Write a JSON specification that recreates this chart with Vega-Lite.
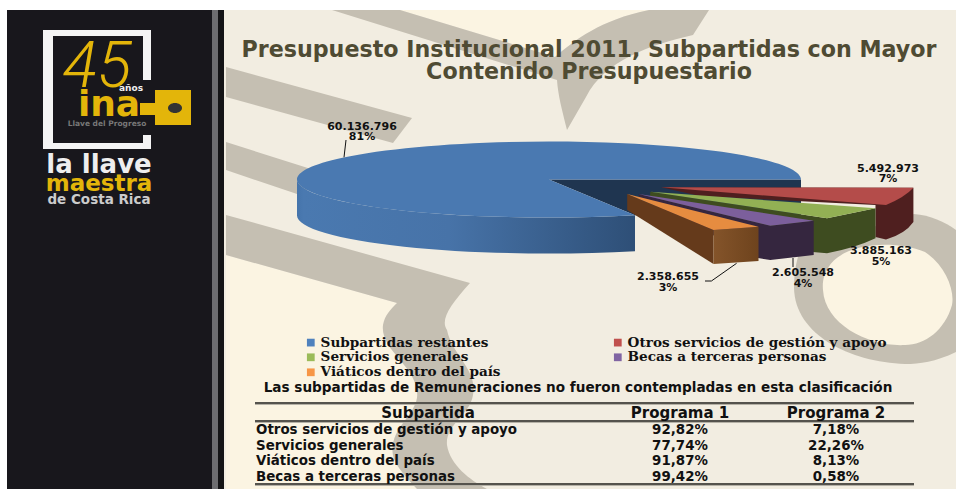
{
"$schema":"https://vega.github.io/schema/vega-lite/v6.json",
"width":956,"height":489,"padding":0,
"autosize":{"type":"fit","contains":"padding"},
"background":"#ffffff",
"config":{"view":{"stroke":null}},
"title":{"text":["Presupuesto Institucional 2011, Subpartidas con Mayor","Contenido Presupuestario"],"anchor":"middle","dx":111,"offset":-83,"font":"DejaVu Sans","fontWeight":"bold","fontSize":22.2,"lineHeight":22,"color":"#4f4b33"},
"datasets":{
"montos":[
{"subpartida":"Subpartidas restantes","monto":60136796,"etiqueta":"60.136.796","porcentaje":"81%"},
{"subpartida":"Otros servicios de gestión y apoyo","monto":5492973,"etiqueta":"5.492.973","porcentaje":"7%"},
{"subpartida":"Servicios generales","monto":3885163,"etiqueta":"3.885.163","porcentaje":"5%"},
{"subpartida":"Becas a terceras personas","monto":2605548,"etiqueta":"2.605.548","porcentaje":"4%"},
{"subpartida":"Viáticos dentro del país","monto":2358655,"etiqueta":"2.358.655","porcentaje":"3%"}
],
"fondo":[{"pieza":"panel"},{"pieza":"claro1"},{"pieza":"claro2"},{"pieza":"banda1"},{"pieza":"banda2"},{"pieza":"banda3"},{"pieza":"banda4"},{"pieza":"anillo"},{"pieza":"centro"},{"pieza":"barra"},{"pieza":"franja"},{"pieza":"filete"},{"pieza":"marco"},{"pieza":"llave"},{"pieza":"ojo"},{"pieza":"sombra"},{"pieza":"reglas"},{"pieza":"cuna"}],
"logo":[{"orden":1,"texto":"años"},{"orden":2,"texto":"ina"},{"orden":3,"texto":"Llave del Progreso"},{"orden":4,"texto":"la llave"},{"orden":5,"texto":"maestra"},{"orden":6,"texto":"de Costa Rica"}],
"tabla":[
{"fila":1,"subpartida":"Otros servicios de gestión y apoyo","programa":"Programa 1","valor":"92,82%"},
{"fila":1,"subpartida":"Otros servicios de gestión y apoyo","programa":"Programa 2","valor":"7,18%"},
{"fila":2,"subpartida":"Servicios generales","programa":"Programa 1","valor":"77,74%"},
{"fila":2,"subpartida":"Servicios generales","programa":"Programa 2","valor":"22,26%"},
{"fila":3,"subpartida":"Viáticos dentro del país","programa":"Programa 1","valor":"91,87%"},
{"fila":3,"subpartida":"Viáticos dentro del país","programa":"Programa 2","valor":"8,13%"},
{"fila":4,"subpartida":"Becas a terceras personas","programa":"Programa 1","valor":"99,42%"},
{"fila":4,"subpartida":"Becas a terceras personas","programa":"Programa 2","valor":"0,58%"}
]
},
"resolve":{"scale":{"x":"independent","y":"independent","color":"independent","shape":"independent","size":"independent"}},
"layer":[
{"data":{"name":"montos"},
"mark":{"type":"square","size":60,"opacity":1},
"encoding":{
"x":{"datum":100,"type":"quantitative","axis":null,"scale":{"domain":[0,956],"range":[0,956],"nice":false}},
"y":{"datum":300,"type":"quantitative","axis":null,"scale":{"domain":[0,489],"range":[0,489],"nice":false}},
"color":{"field":"subpartida","type":"nominal","scale":{"domain":["Subpartidas restantes","Otros servicios de gestión y apoyo","Servicios generales","Becas a terceras personas","Viáticos dentro del país"],"range":["#4f81bd","#c0504d","#9bbb59","#8064a2","#f79646"]},
"legend":{"title":null,"orient":"none","legendX":304,"legendY":335.5,"columns":2,"direction":"horizontal","symbolType":"square","symbolSize":60,"symbolStrokeWidth":0,"labelFont":"DejaVu Serif","labelFontWeight":"bold","labelFontSize":13.6,"labelColor":"#111111","labelLimit":400,"labelOffset":3,"rowPadding":0,"columnPadding":110,"padding":0}}
}},
{"data":{"name":"fondo"},
"mark":{"type":"point","filled":true,"opacity":1,"size":4,"strokeWidth":0},
"encoding":{
"x":{"datum":0,"type":"quantitative","axis":null,"scale":{"domain":[0,956],"range":[0,956],"nice":false}},
"y":{"datum":0,"type":"quantitative","axis":null,"scale":{"domain":[0,489],"range":[0,489],"nice":false}},
"shape":{"field":"pieza","type":"nominal","legend":null,"scale":{"domain":["panel","claro1","claro2","banda1","banda2","banda3","banda4","anillo","centro","barra","franja","filete","marco","llave","ojo","sombra","reglas","cuna"],"range":[
"M224 10 L956 10 L956 489 L224 489 Z",
"M400 10 L649 10 C600 20 575 40 555 57 Z",
"M226 255 L397 303 C390 310 385 315 383 325 C380 350 415 365 417 392 C420 410 395 425 393 445 C390 460 400 470 417 489 L226 489 Z",
"M332 10 L400 10 L555 57 C575 40 600 20 649 10 L709 10 L693 35 C650 45 605 60 586 97 L567 130 C562 110 558 95 557 80 Z",
"M226 67 L412 118 L393 143 L226 97 Z",
"M226 142 L330 175 L300 195 L226 170 Z",
"M226 215 L470 283 C450 305 440 320 447 330 C452 355 478 370 473 395 C470 415 445 425 447 445 C450 465 470 480 487 489 L417 489 C400 470 390 460 393 445 C395 425 420 410 417 392 C415 365 380 350 383 325 C385 315 390 310 397 303 L226 255 Z",
"M800 250 L914 214 C930 215 945 222 956 230 L956 352 C935 362 920 364 905 364 C850 362 795 335 794 288 C794 270 797 260 800 250 Z",
"M828 268 C840 245 890 238 925 252 C945 265 955 290 952 305 C945 330 925 345 905 345 C870 347 825 325 823 290 C822 280 825 273 828 268 Z",
"M7 10 L212 10 L212 489 L7 489 Z",
"M212 10 L218 10 L218 489 L212 489 Z",
"M218 10 L224 10 L224 489 L218 489 Z",
"M43 30 L151 30 L151 80 L143 80 L143 36 L53 36 L53 143 L143 143 L143 135 L151 135 L151 149 L43 149 Z",
"M140 103 L155 103 L155 90 L191 90 L191 125 L155 125 L155 115 L140 115 Z",
"M168 108 A7 5 0 1 0 182 108 A7 5 0 1 0 168 108 Z",
"M255 404 L914 404 L914 405 L255 405 Z M255 422 L914 422 L914 423 L255 423 Z M255 485 L914 485 L914 486 L255 486 Z",
"M255 402 L914 402 L914 404 L255 404 Z M255 420 L914 420 L914 422 L255 422 Z M255 483 L914 483 L914 485 L255 485 Z",
"M549 179.5 L801 179.5 L801 215.5 L635 215.3 Z"
]}},
"color":{"field":"pieza","type":"nominal","legend":null,"scale":{"domain":["panel","claro1","claro2","banda1","banda2","banda3","banda4","anillo","centro","barra","franja","filete","marco","llave","ojo","sombra","reglas","cuna"],"range":["#f2ede1","#fbf4e2","#fbf4e2","#c5bfb2","#c5bfb2","#c5bfb2","#c5bfb2","#c5bfb2","#fbf4e2","#18171c","#6d6d70","#141416","#f4f4f4","#e3b50a","#333333","#b5b1a6","#55534d","#1f3550"]}}
}},
{"data":{"name":"montos"},
"transform":[{"filter":"datum.subpartida === 'Subpartidas restantes'"}],
"mark":{"type":"point","filled":true,"opacity":1,"size":4,"strokeWidth":0,"fill":{"gradient":"linear","x1":0,"x2":1,"y1":0,"y2":0,"stops":[{"offset":0,"color":"#4574ab"},{"offset":0.02,"color":"#4a79b0"},{"offset":0.45,"color":"#4773a8"},{"offset":1,"color":"#2e4f77"}]}},
"encoding":{
"x":{"datum":0,"type":"quantitative","axis":null,"scale":{"domain":[0,956],"range":[0,956],"nice":false}},
"y":{"datum":0,"type":"quantitative","axis":null,"scale":{"domain":[0,489],"range":[0,489],"nice":false}},
"shape":{"field":"subpartida","type":"nominal","legend":null,"scale":{"domain":["Subpartidas restantes"],"range":["M297 179.5 A252 38 0 0 0 635 215.3 L635 251.3 A252 38 0 0 1 297 215.5 Z"]}}
}},
{"data":{"name":"montos"},
"transform":[{"filter":"datum.subpartida !== 'Subpartidas restantes'"}],
"mark":{"type":"point","filled":true,"opacity":1,"size":4,"strokeWidth":0},
"encoding":{
"x":{"datum":0,"type":"quantitative","axis":null,"scale":{"domain":[0,956],"range":[0,956],"nice":false}},
"y":{"datum":0,"type":"quantitative","axis":null,"scale":{"domain":[0,489],"range":[0,489],"nice":false}},
"shape":{"field":"subpartida","type":"nominal","legend":null,"scale":{"domain":["Otros servicios de gestión y apoyo","Servicios generales","Becas a terceras personas","Viáticos dentro del país"],"range":[
"M661 187.3 L913.4 187.7 L913.4 222 Q905 234 886 239.5 L875.5 237 L875.5 205 L700 196 Z",
"M650.4 191.7 L827 218.3 L875.5 208.3 L875.5 238.3 Q855 248 827 253.3 L790 250 L650 196 Z",
"M638.6 194 L770.3 225.7 L813.7 220.7 L813.7 255 L770.3 260 L758 258 L640 198 Z",
"M627.2 194 L713.5 230 L713.5 264 L627.2 210 Z"
]}},
"color":{"field":"subpartida","type":"nominal","legend":null,"scale":{"domain":["Otros servicios de gestión y apoyo","Servicios generales","Becas a terceras personas","Viáticos dentro del país"],"range":["#4f1f1f","#3e4c20","#35263f","#653a1b"]}}
}},
{"data":{"name":"montos"},
"transform":[{"filter":"datum.subpartida === 'Viáticos dentro del país'"}],
"mark":{"type":"point","filled":true,"opacity":1,"size":4,"strokeWidth":0,"fill":{"gradient":"linear","x1":0,"x2":1,"y1":0,"y2":0,"stops":[{"offset":0,"color":"#84542a"},{"offset":1,"color":"#6e431d"}]}},
"encoding":{
"x":{"datum":0,"type":"quantitative","axis":null,"scale":{"domain":[0,956],"range":[0,956],"nice":false}},
"y":{"datum":0,"type":"quantitative","axis":null,"scale":{"domain":[0,489],"range":[0,489],"nice":false}},
"shape":{"field":"subpartida","type":"nominal","legend":null,"scale":{"domain":["Viáticos dentro del país"],"range":["M713.5 230 L758.5 226.7 L758.5 261 L713.5 264 Z"]}}
}},
{"data":{"name":"montos"},
"mark":{"type":"point","filled":true,"opacity":1,"size":4,"strokeWidth":0},
"encoding":{
"x":{"datum":0,"type":"quantitative","axis":null,"scale":{"domain":[0,956],"range":[0,956],"nice":false}},
"y":{"datum":0,"type":"quantitative","axis":null,"scale":{"domain":[0,489],"range":[0,489],"nice":false}},
"shape":{"field":"subpartida","type":"nominal","legend":null,"scale":{"domain":["Subpartidas restantes","Otros servicios de gestión y apoyo","Servicios generales","Becas a terceras personas","Viáticos dentro del país"],"range":[
"M549 179.5 L801 179.5 A252 38 0 1 0 635 215.3 Z",
"M661 187.3 L913.4 187.7 Q905 197 886 205 Z",
"M650.4 191.7 L875.5 208.3 L827 218.3 Z",
"M638.6 194 L813.7 220.7 L770.3 225.7 Z",
"M627.2 194 L758.5 226.7 L713.5 230 Z"
]}},
"color":{"field":"subpartida","type":"nominal","legend":null,"scale":{"domain":["Subpartidas restantes","Otros servicios de gestión y apoyo","Servicios generales","Becas a terceras personas","Viáticos dentro del país"],"range":["#4a79b1","#b44c4a","#92b054","#7c5f9c","#e68c40"]}}
}},
{"data":{"name":"montos"},
"transform":[{"filter":"datum.monto === 60136796 || datum.monto === 2605548 || datum.monto === 2358655"}],
"mark":{"type":"point","filled":false,"opacity":1,"size":4,"stroke":"#111111","strokeWidth":1},
"encoding":{
"x":{"datum":0,"type":"quantitative","axis":null,"scale":{"domain":[0,956],"range":[0,956],"nice":false}},
"y":{"datum":0,"type":"quantitative","axis":null,"scale":{"domain":[0,489],"range":[0,489],"nice":false}},
"shape":{"field":"subpartida","type":"nominal","legend":null,"scale":{"domain":["Subpartidas restantes","Becas a terceras personas","Viáticos dentro del país"],"range":["M344 157.3 L346 140","M793 258 L793 267","M736.6 263.3 L711.4 281 L705 281"]}}
}},
{"data":{"name":"montos"},
"mark":{"type":"text","font":"DejaVu Sans","fontWeight":"bold","fontSize":11,"color":"#111111","baseline":"middle","dy":-5.3},
"encoding":{
"x":{"field":"monto","type":"quantitative","axis":null,"scale":{"domain":[2358655,2605548,3885163,5492973,60136796],"range":[668,803,881,888,362],"nice":false,"zero":false}},
"y":{"field":"monto","type":"quantitative","axis":null,"scale":{"domain":[2358655,2605548,3885163,5492973,60136796],"range":[282.7,278.7,256.7,174,132],"nice":false,"zero":false}},
"text":{"field":"etiqueta"}
}},
{"data":{"name":"montos"},
"mark":{"type":"text","font":"DejaVu Sans","fontWeight":"bold","fontSize":11,"color":"#111111","baseline":"middle","dy":5.3},
"encoding":{
"x":{"field":"monto","type":"quantitative","axis":null,"scale":{"domain":[2358655,2605548,3885163,5492973,60136796],"range":[668,803,881,888,362],"nice":false,"zero":false}},
"y":{"field":"monto","type":"quantitative","axis":null,"scale":{"domain":[2358655,2605548,3885163,5492973,60136796],"range":[282.7,278.7,256.7,174,132],"nice":false,"zero":false}},
"text":{"field":"porcentaje"}
}},
{"data":{"values":[{"orden":1,"texto":"45"}]},
"mark":{"type":"text","font":"Roboto","fontStyle":"italic","fontWeight":300,"fontSize":64,"color":"#e3b50a","baseline":"middle"},
"encoding":{
"x":{"field":"orden","type":"quantitative","axis":null,"scale":{"domain":[0,1],"range":[97,97],"nice":false,"zero":false}},
"y":{"field":"orden","type":"quantitative","axis":null,"scale":{"domain":[0,1],"range":[68,68],"nice":false,"zero":false}},
"text":{"field":"texto"}
}},
{"data":{"name":"logo"},
"mark":{"type":"text","font":"DejaVu Sans","fontWeight":"bold","baseline":"middle"},
"encoding":{
"x":{"field":"orden","type":"quantitative","axis":null,"scale":{"domain":[1,2,3,4,5,6],"range":[131,109,107,99,99,99],"nice":false,"zero":false}},
"y":{"field":"orden","type":"quantitative","axis":null,"scale":{"domain":[1,2,3,4,5,6],"range":[88,105,124,165,184,200],"nice":false,"zero":false}},
"size":{"field":"orden","type":"quantitative","legend":null,"scale":{"domain":[1,2,3,4,5,6],"range":[9,36,7.5,26,23,13.5],"nice":false,"zero":false}},
"color":{"field":"texto","type":"nominal","legend":null,"scale":{"domain":["años","ina","Llave del Progreso","la llave","maestra","de Costa Rica"],"range":["#f0f0f0","#e3b50a","#777777","#eeeeee","#e3b50a","#cccccc"]}},
"text":{"field":"texto"}
}},
{"data":{"values":[{"orden":1,"texto":"Las subpartidas de Remuneraciones no fueron contempladas en esta clasificación"}]},
"mark":{"type":"text","font":"DejaVu Sans","fontWeight":"bold","fontSize":13.6,"color":"#111111","baseline":"middle"},
"encoding":{
"x":{"field":"orden","type":"quantitative","axis":null,"scale":{"domain":[0,1],"range":[578,578],"nice":false,"zero":false}},
"y":{"field":"orden","type":"quantitative","axis":null,"scale":{"domain":[0,1],"range":[388,388],"nice":false,"zero":false}},
"text":{"field":"texto"}
}},
{"data":{"values":[{"orden":1,"columna":"Subpartida"},{"orden":2,"columna":"Programa 1"},{"orden":3,"columna":"Programa 2"}]},
"mark":{"type":"text","font":"DejaVu Sans","fontWeight":"bold","fontSize":15,"color":"#111111","baseline":"middle"},
"encoding":{
"x":{"field":"orden","type":"quantitative","axis":null,"scale":{"domain":[1,2,3],"range":[428,680,836],"nice":false,"zero":false}},
"y":{"field":"orden","type":"quantitative","axis":null,"scale":{"domain":[1,3],"range":[412.7,412.7],"nice":false,"zero":false}},
"text":{"field":"columna"}
}},
{"data":{"name":"tabla"},
"transform":[{"filter":"datum.programa === 'Programa 1'"}],
"mark":{"type":"text","font":"DejaVu Sans","fontWeight":"bold","fontSize":13.4,"color":"#111111","baseline":"middle","align":"left"},
"encoding":{
"x":{"field":"fila","type":"quantitative","axis":null,"scale":{"domain":[1,4],"range":[256,256],"nice":false,"zero":false}},
"y":{"field":"fila","type":"quantitative","axis":null,"scale":{"domain":[1,4],"range":[430,476.7],"nice":false,"zero":false}},
"text":{"field":"subpartida"}
}},
{"data":{"name":"tabla"},
"mark":{"type":"text","font":"DejaVu Sans","fontWeight":"bold","fontSize":13.4,"color":"#111111","baseline":"middle"},
"encoding":{
"x":{"field":"programa","type":"nominal","axis":null,"scale":{"type":"point","domain":["Programa 1","Programa 2"],"range":[680,836],"padding":0}},
"y":{"field":"fila","type":"quantitative","axis":null,"scale":{"domain":[1,4],"range":[430,476.7],"nice":false,"zero":false}},
"text":{"field":"valor"}
}}
]
}
